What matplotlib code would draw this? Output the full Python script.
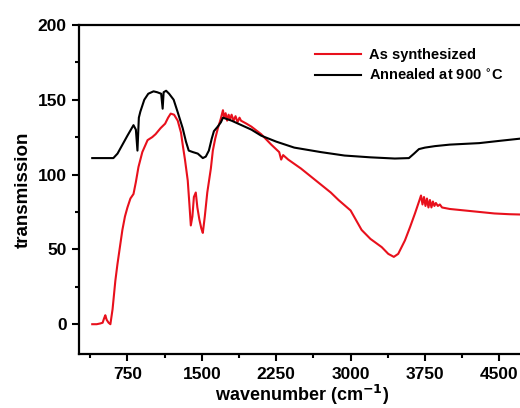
import matplotlib.pyplot as plt
from matplotlib.ticker import MultipleLocator

plt.rcParams['font.family'] = ['Liberation Sans', 'DejaVu Sans']
plt.rcParams['font.weight'] = 'bold'

# As synthesized (red)
wn_red = [395, 440, 476, 500, 515, 527, 540, 560, 578, 600, 628, 649, 675, 699, 725, 750,
          780, 811, 835, 861, 900, 953, 1000, 1034, 1084, 1130, 1160, 1186, 1220, 1257,
          1290, 1307, 1330, 1358, 1375, 1389, 1405, 1420, 1439, 1455, 1475, 1495, 1510,
          1530, 1555, 1591, 1611, 1635, 1662, 1690, 1713, 1725, 1740, 1755, 1770, 1785,
          1800, 1820, 1840, 1860, 1880, 1895, 1950, 2000, 2098, 2200, 2280, 2300, 2320,
          2371, 2500, 2650, 2800, 2878, 3000, 3111, 3200, 3314, 3380, 3436, 3480, 3548,
          3600, 3649, 3690, 3710, 3725, 3740, 3755, 3770, 3785, 3800, 3815, 3830, 3845,
          3860, 3880, 3900, 3922, 4000, 4150, 4300, 4450, 4600, 4711]
tr_red = [0, 0, 0.5, 1, 4, 6, 3, 1, 0, 10, 29, 40, 52, 63, 72, 78,
          84, 87, 95, 105, 115, 123, 125, 127, 131, 134, 138, 140.7, 140, 136,
          128, 120, 110, 96, 80, 66, 72, 85, 88, 78, 70, 64, 61,
          72, 88, 104, 116, 124, 131, 137, 143, 138, 141, 136, 140, 137,
          140, 136, 139, 135, 138, 136, 134, 132, 127, 120, 115, 110, 113,
          110, 104, 96, 88, 83, 76, 63, 57, 51.5, 47, 45, 47, 56,
          65, 74, 82, 86, 80, 85, 79, 84, 78, 83, 78, 82, 79,
          81, 79, 80, 78, 77, 76, 75, 74, 73.5, 73.3]

# Annealed at 900 C (black)
wn_blk = [395, 450, 500, 560, 608, 650, 700, 750, 811, 835, 851, 865, 880, 920, 960,
          1013, 1050, 1090, 1105, 1115, 1140, 1170, 1216, 1260, 1307, 1340, 1368, 1410,
          1459, 1510, 1540, 1571, 1600, 1622, 1660, 1693, 1713, 1800, 1900, 2000, 2098,
          2250, 2432, 2700, 2939, 3200, 3446, 3588, 3640, 3689, 3750, 3851, 4000, 4297,
          4500, 4711]
tr_blk = [111, 111, 111, 111, 111, 114, 120, 126, 133, 130, 116, 138, 142, 150, 154,
          155.6, 155, 154, 144, 155, 156, 154, 150, 141, 131, 122, 116, 115,
          114, 111, 112, 116, 124, 129, 132, 135, 138, 136, 133, 130, 126,
          122, 118, 115, 112.7, 111.5, 110.7, 111, 114, 117, 118, 119, 120, 121,
          122.5, 124]

fig = plt.figure(figsize=(5.2, 4.08), dpi=100)
ax = fig.add_axes([0.152, 0.132, 0.856, 0.807])

ax.plot(wn_red, tr_red, color='#e8101c', lw=1.5, label='As synthesized')
ax.plot(wn_blk, tr_blk, color='black', lw=1.5, label='Annealed at 900 $^{\\circ}$C')

ax.set_xlim(262, 4750)
ax.set_ylim(-20, 200)
ax.xaxis.set_major_locator(MultipleLocator(750))
ax.xaxis.set_minor_locator(MultipleLocator(375))
ax.yaxis.set_major_locator(MultipleLocator(50))
ax.yaxis.set_minor_locator(MultipleLocator(25))
ax.tick_params(which='both', direction='out', width=1.5, labelsize=12.5)
ax.tick_params(which='major', length=5, pad=4)
ax.tick_params(which='minor', length=3)
for s in ax.spines.values():
    s.set_linewidth(1.6)

ax.set_xlabel('wavenumber (cm$^{-1}$)', fontsize=13, fontweight='bold', labelpad=1)
ax.set_ylabel('transmission', fontsize=13.5, fontweight='bold', labelpad=4)

leg = ax.legend(loc='upper left', bbox_to_anchor=(0.5, 0.97), frameon=False,
                fontsize=10.5, handlelength=3.2, handletextpad=0.5, labelspacing=0.35)

fig.savefig('out.png', dpi=100)
